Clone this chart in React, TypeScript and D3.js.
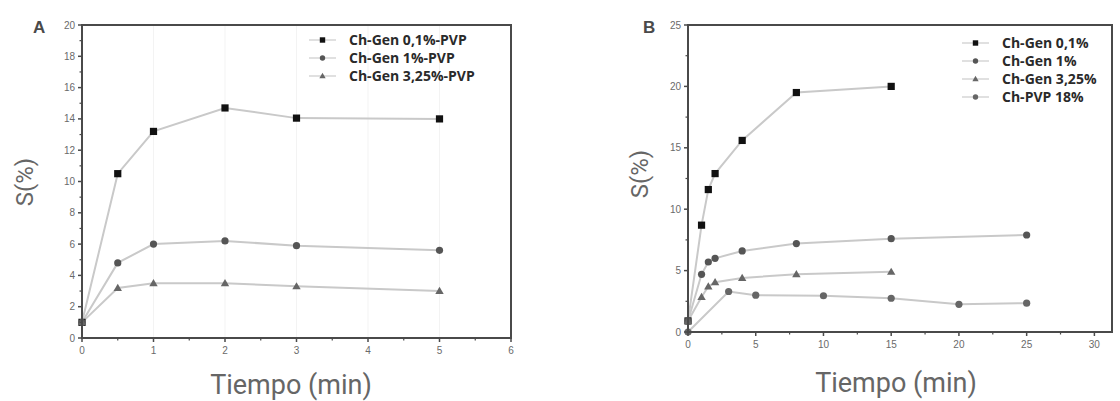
import React from "react";
import * as d3 from "d3";

// Panel A data
const timeA = [0, 0.5, 1, 2, 3, 5];
const a01 = [1.0, 10.5, 13.2, 14.7, 14.05, 14.0];
const a1 = [1.0, 4.8, 6.0, 6.2, 5.9, 5.6];
const a325 = [1.0, 3.2, 3.5, 3.5, 3.3, 3.0];
const legendA = ["Ch-Gen 0,1%-PVP", "Ch-Gen 1%-PVP", "Ch-Gen 3,25%-PVP"];
const xTicksA = [0, 1, 2, 3, 4, 5, 6];
const yTicksA = [0, 2, 4, 6, 8, 10, 12, 14, 16, 18, 20];

// Panel B data
const timeB1 = [0, 1, 1.5, 2, 4, 8, 15];
const b01 = [0.9, 8.7, 11.6, 12.9, 15.6, 19.5, 20.0];
const timeB2 = [0, 1, 1.5, 2, 4, 8, 15, 25];
const b1 = [0.9, 4.7, 5.7, 6.0, 6.6, 7.2, 7.6, 7.9];
const timeB3 = [0, 1, 1.5, 2, 4, 8, 15];
const b325 = [0.9, 2.85, 3.7, 4.05, 4.4, 4.7, 4.9];
const timeB4 = [0, 3, 5, 10, 15, 20, 25];
const bPVP = [0, 3.3, 3.0, 2.95, 2.75, 2.25, 2.35];
const legendB = ["Ch-Gen 0,1%", "Ch-Gen 1%", "Ch-Gen 3,25%", "Ch-PVP 18%"];
const xTicksB = [0, 5, 10, 15, 20, 25, 30];
const yTicksB = [0, 5, 10, 15, 20, 25];

type Series = { x: number[]; y: number[]; shape: string; color: string };

const LINE = "#c9c9c9";
const AXIS = "#4a4a4a";
const TICKTXT = "#6a6a6a";

function Marker({ shape, color, cx, cy, s = 1 }: { shape: string; color: string; cx: number; cy: number; s?: number }) {
  if (shape === "square") return <rect x={cx - 3.6 * s} y={cy - 3.6 * s} width={7.2 * s} height={7.2 * s} fill={color} />;
  if (shape === "triangle")
    return <path d={`M${cx},${cy - 4.2 * s}L${cx + 4.2 * s},${cy + 3 * s}L${cx - 4.2 * s},${cy + 3 * s}Z`} fill={color} />;
  return <circle cx={cx} cy={cy} r={3.6 * s} fill={color} />;
}

function Panel(props: {
  left: number; right: number; top: number; bottom: number;
  xMax: number; yMax: number; xMajor: number[]; xMinor: number[]; yMajor: number[]; yMinor: number[];
  series: Series[]; legend: string[]; legendX: number; legendY: number; legendStep: number;
  letter: string; letterX: number; sX: number; sY: number; tX: number; tY: number; grid: boolean;
}) {
  const x = d3.scaleLinear().domain([0, props.xMax]).range([props.left, props.right]);
  const y = d3.scaleLinear().domain([0, props.yMax]).range([props.bottom, props.top]);
  const line = d3.line<[number, number]>().x(d => x(d[0])).y(d => y(d[1]));
  return (
    <g>
      {props.grid && props.xMajor.slice(1, -1).map(v => (
        <line key={"g" + v} x1={x(v)} x2={x(v)} y1={props.top} y2={props.bottom} stroke="#f3f3f3" strokeWidth={1} />
      ))}
      {props.series.map((s, i) => (
        <path key={"l" + i} d={line(s.x.map((v, j) => [v, s.y[j]]) as [number, number][]) || ""} fill="none" stroke={LINE} strokeWidth={2} />
      ))}
      {props.series.map((s, i) => s.x.map((v, j) => (
        <Marker key={"m" + i + "-" + j} shape={s.shape} color={s.color} cx={x(v)} cy={y(s.y[j])} />
      )))}
      <rect x={props.left} y={props.top} width={props.right - props.left} height={props.bottom - props.top} fill="none" stroke={AXIS} strokeWidth={2} />
      {props.xMajor.map(v => (
        <g key={"xt" + v}>
          <line x1={x(v)} x2={x(v)} y1={props.bottom} y2={props.bottom + 4} stroke={AXIS} strokeWidth={1.5} />
          <text x={x(v)} y={props.bottom + 16} fontSize={10} fill={TICKTXT} textAnchor="middle" fontFamily="Liberation Sans, Arial, sans-serif">{v}</text>
        </g>
      ))}
      {props.xMinor.map(v => (
        <line key={"xm" + v} x1={x(v)} x2={x(v)} y1={props.bottom} y2={props.bottom + 2.5} stroke={AXIS} strokeWidth={1.2} />
      ))}
      {props.yMajor.map(v => (
        <g key={"yt" + v}>
          <line x1={props.left - 4} x2={props.left} y1={y(v)} y2={y(v)} stroke={AXIS} strokeWidth={1.5} />
          <text x={props.left - 7} y={y(v) + 3.5} fontSize={10} fill={TICKTXT} textAnchor="end" fontFamily="Liberation Sans, Arial, sans-serif">{v}</text>
        </g>
      ))}
      {props.yMinor.map(v => (
        <line key={"ym" + v} x1={props.left - 2.5} x2={props.left} y1={y(v)} y2={y(v)} stroke={AXIS} strokeWidth={1.2} />
      ))}
      {props.legend.map((t, i) => {
        const ly = props.legendY + i * props.legendStep;
        const s = props.series[i];
        return (
          <g key={"lg" + i}>
            <line x1={props.legendX} x2={props.legendX + 27} y1={ly} y2={ly} stroke="#d6d6d6" strokeWidth={1.5} />
            <Marker shape={s.shape} color={s.color} cx={props.legendX + 13.5} cy={ly} s={0.75} />
            <text x={props.legendX + 40} y={ly + 5} fontSize={14} fontWeight={700} fill="#2a2a2a" fontFamily="Open Sans, sans-serif">{t}</text>
          </g>
        );
      })}
      <text x={props.letterX} y={props.top + 8} fontSize={17} fontWeight={700} fill="#4a4a4a" fontFamily="Liberation Sans, Arial, sans-serif">{props.letter}</text>
      <text transform={`translate(${props.sX},${props.sY}) rotate(-90)`} fontSize={24} fill="#666" textAnchor="middle" fontFamily="Roboto, Liberation Sans, Arial, sans-serif">S(%)</text>
      <text x={props.tX} y={props.tY} fontSize={27} fill="#666" textAnchor="middle" fontFamily="Roboto, Liberation Sans, Arial, sans-serif">Tiempo (min)</text>
    </g>
  );
}

export default function App() {
  const seriesA: Series[] = [
    { x: timeA, y: a01, shape: "square", color: "#111" },
    { x: timeA, y: a1, shape: "circle", color: "#555" },
    { x: timeA, y: a325, shape: "triangle", color: "#666" },
  ];
  const seriesB: Series[] = [
    { x: timeB1, y: b01, shape: "square", color: "#111" },
    { x: timeB2, y: b1, shape: "circle", color: "#555" },
    { x: timeB3, y: b325, shape: "triangle", color: "#666" },
    { x: timeB4, y: bPVP, shape: "circle", color: "#666" },
  ];
  return (
    <svg width={1120} height={401} style={{ position: "absolute", left: 0, top: 0, background: "#fff" }}>
      <Panel left={82} right={511} top={25} bottom={338} xMax={6} yMax={20}
        xMajor={xTicksA} xMinor={[0.5, 1.5, 2.5, 3.5, 4.5, 5.5]}
        yMajor={yTicksA} yMinor={[1, 3, 5, 7, 9, 11, 13, 15, 17, 19]}
        series={seriesA} legend={legendA} legendX={309} legendY={40} legendStep={18}
        letter="A" letterX={33} sX={33} sY={182} tX={291} tY={394} grid={true} />
      <Panel left={688} right={1112} top={25} bottom={332} xMax={31.3} yMax={25}
        xMajor={xTicksB} xMinor={[2.5, 7.5, 12.5, 17.5, 22.5, 27.5]}
        yMajor={yTicksB} yMinor={[2.5, 7.5, 12.5, 17.5, 22.5]}
        series={seriesB} legend={legendB} legendX={962} legendY={43} legendStep={18}
        letter="B" letterX={643} sX={648} sY={174} tX={896} tY={392} grid={false} />
    </svg>
  );
}
